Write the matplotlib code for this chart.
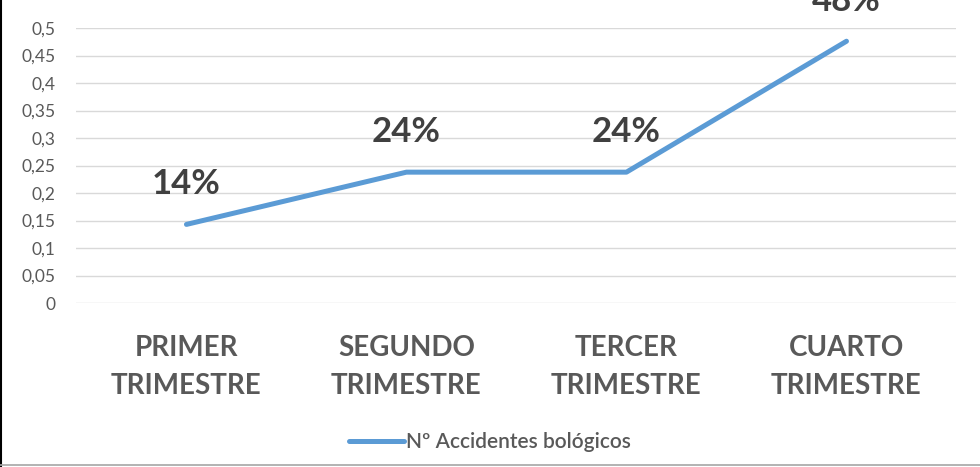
import numpy as np
import matplotlib.pyplot as plt
from matplotlib.ticker import FuncFormatter
from matplotlib.lines import Line2D

categories = ['PRIMER\nTRIMESTRE', 'SEGUNDO\nTRIMESTRE', 'TERCER\nTRIMESTRE', 'CUARTO\nTRIMESTRE']
values = [0.143, 0.238, 0.238, 0.476]
labels = ['14%', '24%', '24%', '48%']
series_name = 'Nº Accidentes bológicos'

plt.rcParams['font.family'] = ['Lato', 'DejaVu Sans']

fig = plt.figure(figsize=(9.8, 4.67), dpi=100)
ax = fig.add_axes([0.078, 0.351, 0.898, 0.589])

x = np.arange(len(categories))
ax.plot(x, values, color='#5B9BD5', lw=3.6, solid_capstyle='round',
        solid_joinstyle='round', label=series_name, zorder=3)

# data labels above each point
for xi, v, lab in zip(x, values, labels):
    ax.annotate(lab, (xi, v), xytext=(0, 29), textcoords='offset points',
                ha='center', va='center', fontsize=25, fontweight='bold',
                color='#404040', annotation_clip=False)

ax.set_xlim(-0.5, 3.5)
ax.set_ylim(0, 0.5)
ax.set_yticks(np.arange(0, 0.501, 0.05))
ax.yaxis.set_major_formatter(FuncFormatter(
    lambda v, p: '0' if v == 0 else ('%g' % round(v, 2)).replace('.', ',')))
ax.set_xticks(x)
ax.set_xticklabels(categories, fontsize=20, fontweight='bold', color='#595959',
                   linespacing=1.55)
ax.tick_params(axis='y', labelsize=12.5, labelcolor='#595959', length=0, pad=15)
ax.tick_params(axis='x', length=0, pad=23)
ax.grid(axis='y', color='#D9D9D9', lw=1)
ax.set_axisbelow(True)
for s in ax.spines.values():
    s.set_visible(False)

leg = ax.legend(loc='upper center', bbox_to_anchor=(0.47, -0.40), frameon=False,
                fontsize=15, handlelength=2.6, handletextpad=0.1)
for t in leg.get_texts():
    t.set_color('#595959')
    t.set_fontweight('semibold')

# crop edges of the original screenshot
fig.add_artist(Line2D([0.001, 0.001], [0, 1], color='black', lw=1.5))
fig.add_artist(Line2D([0, 1], [0.004, 0.004], color='#A6A6A6', lw=1.2))

fig.savefig('out.png', dpi=100)
